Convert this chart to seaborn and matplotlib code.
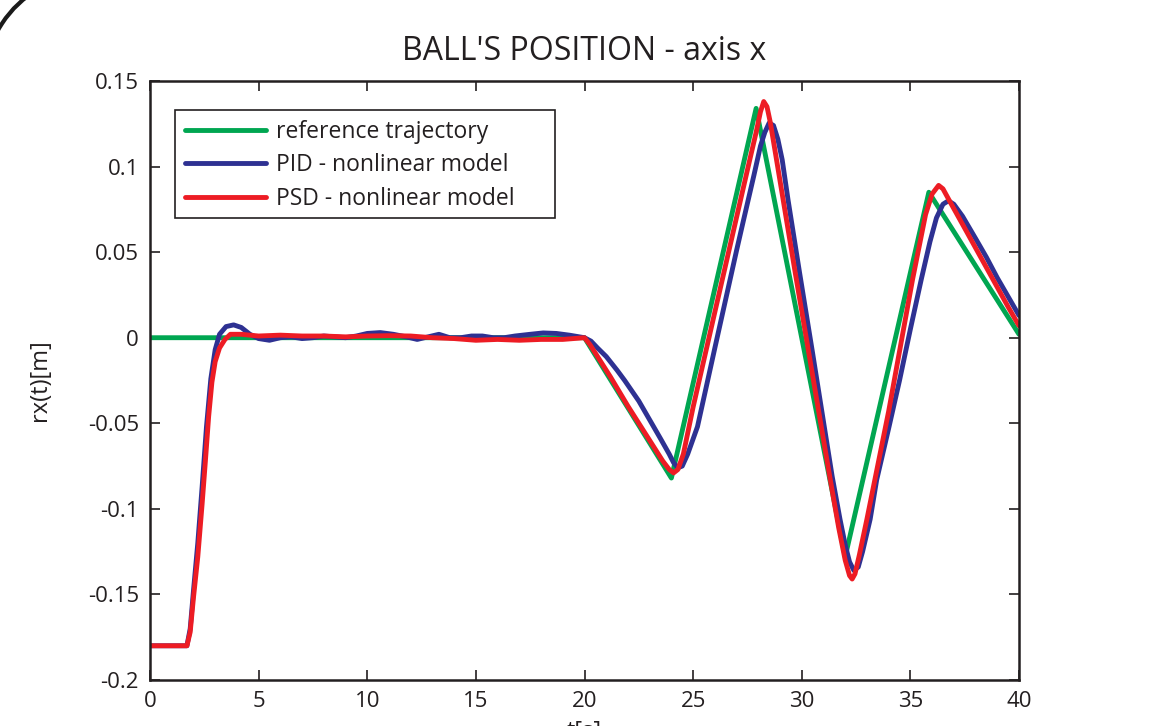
import numpy as np
import pandas as pd
import matplotlib
matplotlib.use("Agg")
import matplotlib.pyplot as plt
from matplotlib.patches import Arc, Rectangle
import seaborn as sns

# reference trajectory (green)
t_ref = [0, 20, 24.0, 27.9, 32.0, 35.85, 40]
x_ref = [0, 0, -0.082, 0.134, -0.128, 0.085, 0.002]

# PID - nonlinear model (blue)
t_pid = [0, 1.7, 1.85, 2.0, 2.2, 2.4, 2.6, 2.8, 3.0, 3.2, 3.5, 3.85, 4.2, 4.6, 5.0, 5.5,
         6.0, 6.5, 7.0, 7.5, 8.0, 8.5, 9.0, 9.5, 10.0, 10.6, 11.2, 11.8, 12.3, 12.8, 13.3,
         13.8, 14.3, 14.8, 15.3, 15.8, 16.3, 16.8, 17.5, 18.1, 18.7, 19.3, 20.0,
         20.3, 20.6, 21.0, 21.5, 21.85, 22.5, 23.0, 23.5, 23.9, 24.1, 24.3, 24.5, 24.75, 25.2,
         26.0, 27.0, 27.3, 27.8, 28.1, 28.3, 28.5, 28.7, 28.9, 29.1,
         29.37, 29.9, 30.5, 31.0, 31.4, 31.76, 32.0, 32.2, 32.4, 32.6, 32.8, 33.15,
         33.45, 34.0, 34.5, 35.0, 35.5, 35.9, 36.2, 36.5, 36.75, 37.0, 37.4,
         38.0, 38.5, 39.0, 39.5, 40.0]
x_pid = [-0.18, -0.18, -0.17, -0.148, -0.12, -0.087, -0.052, -0.024, -0.007, 0.002, 0.0065, 0.0075, 0.006, 0.002, -0.0005, -0.0015,
         0.0, 0.0005, -0.0005, 0.0, 0.001, 0.0005, 0.0, 0.001, 0.0025, 0.003, 0.002, 0.0005, -0.001, 0.0005, 0.002,
         0.0, 0.0, 0.001, 0.001, 0.0, 0.0, 0.001, 0.002, 0.0028, 0.0025, 0.0015, 0.0,
         -0.002, -0.006, -0.011, -0.019, -0.025, -0.037, -0.048, -0.059, -0.068, -0.073, -0.076, -0.075, -0.068, -0.052,
         -0.006, 0.051, 0.0676, 0.095, 0.112, 0.12, 0.1255, 0.124, 0.116, 0.104,
         0.0805, 0.038, -0.009, -0.049, -0.081, -0.106, -0.121, -0.131, -0.136, -0.134, -0.125, -0.106,
         -0.083, -0.053, -0.025, 0.005, 0.034, 0.056, 0.070, 0.078, 0.080, 0.078, 0.071,
         0.058, 0.047, 0.035, 0.024, 0.013]

# PSD - nonlinear model (red)
t_psd = [0, 1.7, 1.85, 2.0, 2.2, 2.4, 2.55, 2.7, 2.85, 3.0, 3.2, 3.45, 3.7, 4.2, 5, 6, 7, 8, 9,
         10, 11, 12, 13, 14, 15, 16, 17, 18, 19, 20,
         20.25, 20.6, 21.2, 22.0, 23.0, 23.6, 23.9, 24.1, 24.3, 24.55,
         25.0, 26.0, 27.0, 27.6, 27.9, 28.1, 28.25, 28.4, 28.55, 28.8, 29.1, 29.7, 30.5,
         31.3, 31.7, 32.0, 32.2, 32.32, 32.45, 32.65, 33.0, 34.0, 35.1, 35.7, 36.0, 36.3,
         36.5, 36.8, 37.5, 38.5, 39.5, 40.0]
x_psd = [-0.18, -0.18, -0.172, -0.152, -0.128, -0.097, -0.072, -0.046, -0.026, -0.014, -0.006, -0.001, 0.002, 0.002, 0.001, 0.0015, 0.001, 0.001, 0.0005,
         0.001, 0.0012, 0.001, 0.0, -0.0005, -0.0015, -0.001, -0.0015, -0.001, -0.001, 0.0,
         -0.004, -0.011, -0.023, -0.040, -0.060, -0.072, -0.077, -0.079, -0.077, -0.068,
         -0.0405, 0.015, 0.0704, 0.1036, 0.120, 0.132, 0.138, 0.135, 0.126, 0.107, 0.084, 0.038, -0.022,
         -0.082, -0.111, -0.130, -0.139, -0.141, -0.138, -0.127, -0.106, -0.043, 0.034, 0.072, 0.084, 0.089,
         0.087, 0.080, 0.064, 0.041, 0.018, 0.007]

labels = ["reference trajectory", "PID - nonlinear model", "PSD - nonlinear model"]
colors = ["#00a651", "#2e3192", "#ed1c24"]

df = pd.concat([
    pd.DataFrame({"t": t_ref, "x": x_ref, "series": labels[0]}),
    pd.DataFrame({"t": t_pid, "x": x_pid, "series": labels[1]}),
    pd.DataFrame({"t": t_psd, "x": x_psd, "series": labels[2]}),
])

sns.set_style("ticks")
plt.rcParams['font.family'] = ['Open Sans', 'DejaVu Sans']
ink = "#231f20"

fig = plt.figure(figsize=(11.5, 7.26), dpi=100)
ax = fig.add_axes([150/1150, 1-680/726, 869/1150, 599/726])

sns.lineplot(data=df, x="t", y="x", hue="series", hue_order=labels,
             palette=dict(zip(labels, colors)), estimator=None, sort=False,
             linewidth=3.5, legend=False, ax=ax)
for ln in ax.get_lines():
    ln.set_solid_joinstyle("round")
    ln.set_solid_capstyle("round")

ax.set_xlim(0, 40)
ax.set_ylim(-0.2, 0.15)
ax.set_xticks(np.arange(0, 41, 5))
ax.set_yticks([-0.2, -0.15, -0.1, -0.05, 0, 0.05, 0.1, 0.15])
ax.set_yticklabels(["-0.2", "-0.15", "-0.1", "-0.05", "0", "0.05", "0.1", "0.15"])
ax.tick_params(direction="in", length=7, width=1.2, top=True, right=True,
               labelsize=16, colors=ink, pad=8)
for s in ax.spines.values():
    s.set_visible(True)
    s.set_linewidth(1.8)
    s.set_color(ink)

ax.set_title("BALL'S POSITION - axis x", fontsize=23, color=ink, pad=15)
ax.set_ylabel("rx(t)[m]", fontsize=17, color=ink, labelpad=26)
ax.set_xlabel("t[s]", fontsize=17, color=ink, labelpad=6)

# legend without its own frame; the box is drawn separately to match the wider original
leg = ax.legend(handles=ax.get_lines()[:3], labels=labels, loc="upper left",
                bbox_to_anchor=(25/869, 1-29/599), borderaxespad=0, fontsize=16.5,
                frameon=False, handlelength=3.5, handletextpad=0.45,
                labelspacing=0.4, borderpad=0.45)
for txt in leg.get_texts():
    txt.set_color(ink)
ax.add_patch(Rectangle((25/869, 1-137/599), 380/869, 108/599, transform=ax.transAxes,
                       facecolor="white", edgecolor=ink, linewidth=1.2, zorder=4))
leg.set_zorder(5)

# stray arc in the upper-left corner of the scan
fig.add_artist(Arc((92.5/1150, 1-82.5/726), 2*108/1150, 2*108/726,
                   theta1=110, theta2=170, transform=fig.transFigure,
                   color="#1a1a1a", linewidth=3))

fig.savefig("out.png", dpi=100)
